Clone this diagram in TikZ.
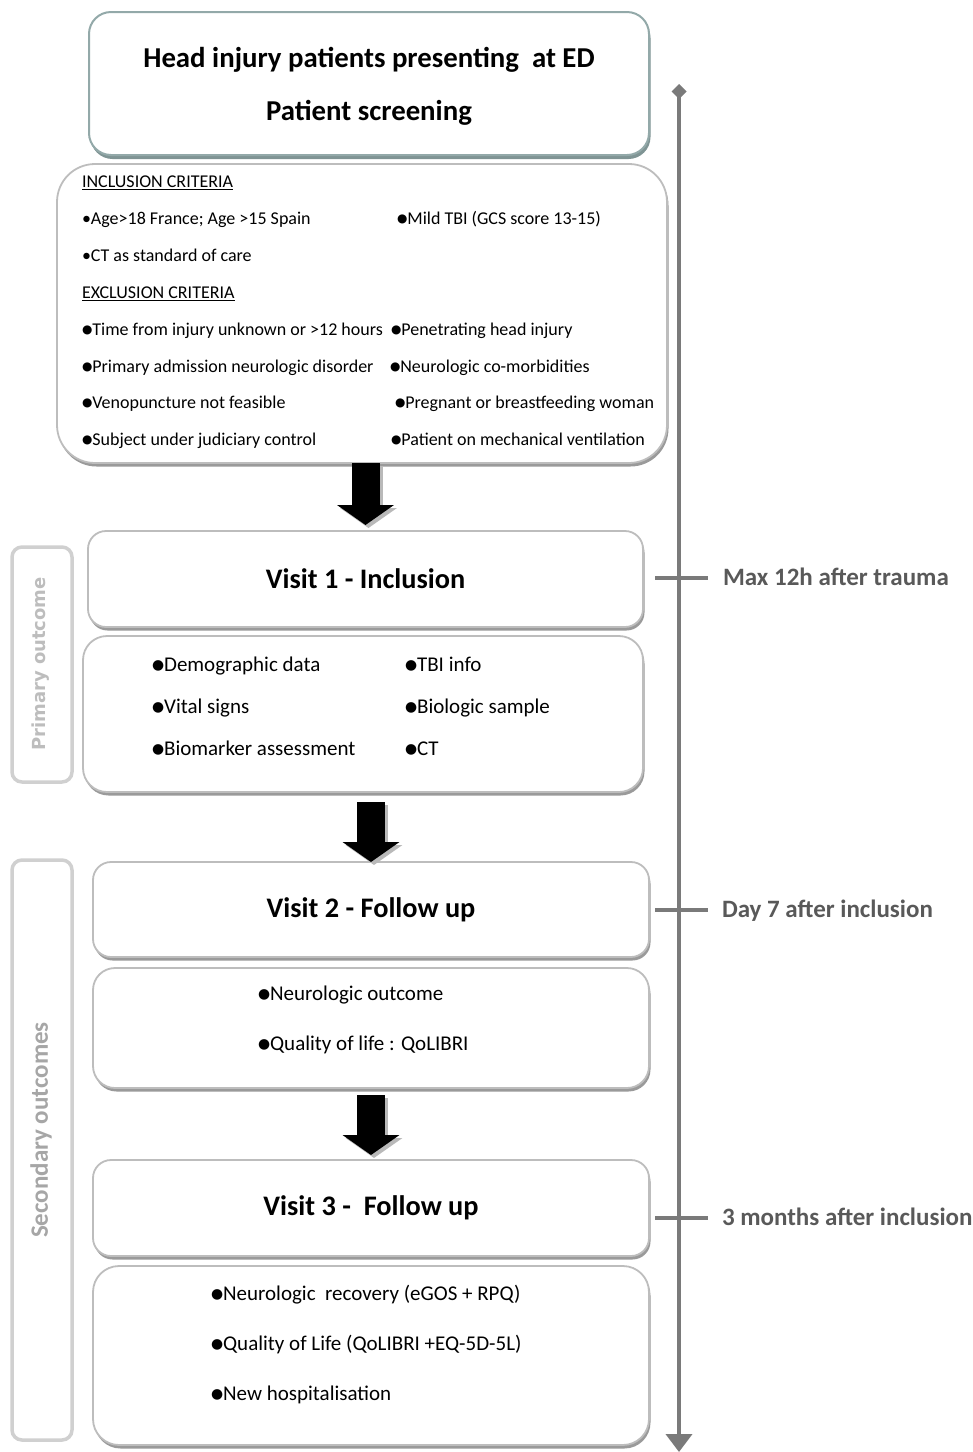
\documentclass[tikz,border=0pt]{standalone}
\usepackage{fontspec}
\usepackage{graphicx}
\setmainfont{Carlito}
\newfontfamily\dejavu{DejaVu Sans}
\usetikzlibrary{arrows.meta,shadows,calc}

\definecolor{tealline}{HTML}{93A9A9}
\definecolor{tealshade}{HTML}{7F9494}
\definecolor{boxline}{HTML}{BDBDBD}
\definecolor{boxshade}{HTML}{9A9A9A}
\definecolor{sideline}{HTML}{D0D0D0}
\definecolor{sidetext}{HTML}{BDBDBD}
\definecolor{sectext}{HTML}{A6A6A6}
\definecolor{tlgray}{HTML}{7A7A7A}
\definecolor{labgray}{HTML}{595959}

\newcommand{\bul}{{\dejavu\raisebox{0.1em}{\scalebox{0.66}{●}}}}

\begin{document}
\begin{tikzpicture}[
        x=1pt, y=-1pt,
        every node/.style={inner sep=0pt, outer sep=0pt},
        box/.style={draw=boxline, line width=1.8pt, fill=white, rounded corners=#1,
            drop shadow={shadow xshift=1.5pt, shadow yshift=-3.5pt, fill=boxshade, opacity=1}},
        box/.default=20pt,
        topbox/.style={draw=tealline, line width=2pt, fill=white, rounded corners=22pt,
            drop shadow={shadow xshift=1.5pt, shadow yshift=-4pt, fill=tealshade, opacity=1}},
        sidebox/.style={draw=sideline, line width=3.5pt, rounded corners=10pt},
        sidelab/.style={rotate=90, text=sidetext},
        visit/.style={font=\fontsize{28.3}{32}\selectfont\bfseries},
        crit/.style={anchor=mid west, yshift=-4pt, font=\fontsize{18}{20}\selectfont},
        info/.style={anchor=mid west, yshift=-4pt, font=\fontsize{21}{24}\selectfont},
        timelab/.style={anchor=mid west, yshift=-5pt, text=labgray, font=\fontsize{25}{28}\selectfont\bfseries},
        blockarr/.style={draw=black, line width=28pt, -{Triangle[width=56pt, length=20pt]}},
        blockshade/.style={blockarr, draw=gray!55, transform canvas={xshift=3pt, yshift=-3pt}},
        tline/.style={draw=tlgray, line width=4pt,
            {Turned Square[width=15pt, length=15pt]}-{Triangle[width=26pt, length=18pt]}},
        tick/.style={draw=tlgray, line width=3.5pt}
    ]
        \useasboundingbox (0,0) rectangle (973,1452);

        % Hộp sàng lọc
        \node[topbox, minimum width=560pt, minimum height=143pt] (screen) at (369,83.5) {};
        \node[align=center, font=\fontsize{28.8}{53}\selectfont\bfseries] (screentitle) at (369,86)
            {Head injury patients presenting\ \ at ED\\Patient screening};

        % Tiêu chí
        \node[box=38pt, minimum width=610pt, minimum height=299pt] (crit) at (362,313.5) {};
        \node[crit] (inchead) at (82,181) {\underline{INCLUSION CRITERIA}};
        \node[crit] (inc1) at (82,218) {•Age>18 France; Age >15 Spain};
        \node[crit] (inc2) at (397,218) {\bul Mild TBI (GCS score 13-15)};
        \node[crit] (inc3) at (82,255) {•CT as standard of care};
        \node[crit] (exchead) at (82,292) {\underline{EXCLUSION CRITERIA}};
        \foreach \y/\lt/\rx/\rt [count=\i] in {
            329/{Time from injury unknown or >12 hours}/391/{Penetrating head injury},
            366/{Primary admission neurologic disorder}/390/{Neurologic co-morbidities},
            402/{Venopuncture not feasible}/395/{Pregnant or breastfeeding woman},
            439/{Subject under judiciary control}/391/{Patient on mechanical ventilation}}
        {
            \node[crit] (exl\i) at (82,\y) {\bul\lt};
            \node[crit] (exr\i) at (\rx,\y) {\bul\rt};
        }

        % Visit 1
        \node[box=18pt, visit, minimum width=555pt, minimum height=96pt] (visitone) at (365.5,579) {Visit 1 - Inclusion};
        \node[box=24pt, minimum width=560pt, minimum height=156pt] (infoone) at (363,714) {};
        \node[info] (v1a) at (152,665) {\bul Demographic data};
        \node[info] (v1b) at (405,665) {\bul TBI info};
        \node[info] (v1c) at (152,707) {\bul Vital signs};
        \node[info] (v1d) at (405,707) {\bul Biologic sample};
        \node[info] (v1e) at (152,749) {\bul Biomarker assessment};
        \node[info] (v1f) at (405,749) {\bul CT};

        % Visit 2
        \node[box=18pt, visit, minimum width=556pt, minimum height=95pt] (visittwo) at (371,909.5) {Visit 2 - Follow up};
        \node[box=22pt, minimum width=556pt, minimum height=120pt] (infotwo) at (371,1028) {};
        \node[info] (v2a) at (258,994) {\bul Neurologic outcome};
        \node[info] (v2b) at (258,1044) {\bul Quality of life : QoLIBRI};

        % Visit 3
        \node[box=18pt, visit, minimum width=556pt, minimum height=96pt] (visitthree) at (371,1208) {Visit 3 -\ \ Follow up};
        \node[box=26pt, minimum width=556pt, minimum height=179pt] (infothree) at (371,1355.5) {};
        \node[info] (v3a) at (211,1294) {\bul Neurologic\ \ recovery (eGOS + RPQ)};
        \node[info] (v3b) at (211,1344) {\bul Quality of Life (QoLIBRI +EQ-5D-5L)};
        \node[info] (v3c) at (211,1394) {\bul New hospitalisation};

        % Mũi tên khối
        \draw[blockshade] (crit.south -| visitone.north) -- ($(visitone.north)+(0,-6)$);
        \draw[blockarr] (crit.south -| visitone.north) -- ($(visitone.north)+(0,-6)$);
        \draw[blockshade] ($(infoone.south -| visittwo.north)+(0,10)$) -- (visittwo.north);
        \draw[blockarr] ($(infoone.south -| visittwo.north)+(0,10)$) -- (visittwo.north);
        \draw[blockshade] ($(infotwo.south -| visitthree.north)+(0,7)$) -- ($(visitthree.north)+(0,-5)$);
        \draw[blockarr] ($(infotwo.south -| visitthree.north)+(0,7)$) -- ($(visitthree.north)+(0,-5)$);

        % Nhãn bên trái
        \node[sidebox, minimum width=60pt, minimum height=235pt] (primbox) at (42,664.5) {};
        \node[sidelab, font=\dejavu\fontsize{18}{20}\selectfont\bfseries] (primlab) at (41,664) {Primary outcome};
        \node[sidebox, minimum width=60pt, minimum height=580pt] (secbox) at (42,1150) {};
        \node[sidelab, text=sectext, font=\fontsize{25}{28}\selectfont\bfseries] (seclab) at (41,1130) {Secondary outcomes};

        % Trục thời gian
        \coordinate (tltop) at (679,84);
        \coordinate (tlbot) at (679,1452);
        \draw[tline] (tltop) -- (tlbot);
        \node[timelab] (lab1) at (723,578) {Max 12h after trauma};
        \node[timelab] (lab2) at (722,910) {Day 7 after inclusion};
        \node[timelab] (lab3) at (722,1218) {3 months after inclusion};
        \foreach \l in {lab1,lab2,lab3}
            \draw[tick] ($(\l.mid west -| tltop)+(-24,-5)$) -- ($(\l.mid west -| tltop)+(29,-5)$);
    \end{tikzpicture}
\end{document}
